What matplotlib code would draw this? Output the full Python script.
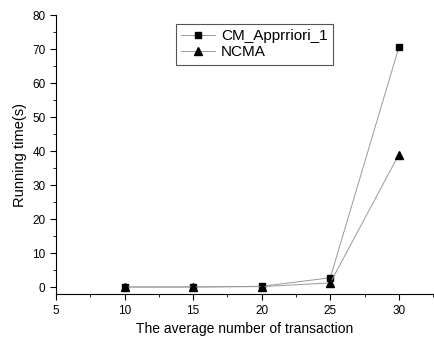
import matplotlib.pyplot as plt
from matplotlib.ticker import MultipleLocator

plt.rcParams['font.family'] = ['Liberation Sans', 'DejaVu Sans']

x = [10, 15, 20, 25, 30]
cm_apriori = [0.1, 0.1, 0.3, 2.8, 70.5]
ncma = [0.1, 0.1, 0.2, 1.3, 39.0]

fig = plt.figure(figsize=(4.34, 3.42), dpi=100)
ax = fig.add_axes([0.129, 0.140, 0.869, 0.816])

ax.plot(x, cm_apriori, color='#999999', lw=0.7, marker='s', ms=5,
        mfc='black', mec='black', label='CM_Apprriori_1')
ax.plot(x, ncma, color='#999999', lw=0.7, marker='^', ms=6,
        mfc='black', mec='black', label='NCMA')

ax.set_xlim(5, 32.5)
ax.set_ylim(-2, 80)
ax.xaxis.set_major_locator(MultipleLocator(5))
ax.xaxis.set_minor_locator(MultipleLocator(2.5))
ax.yaxis.set_major_locator(MultipleLocator(10))
ax.yaxis.set_minor_locator(MultipleLocator(5))
ax.spines['top'].set_visible(False)
ax.spines['right'].set_visible(False)
ax.tick_params(which='major', direction='out', length=4, labelsize=8.5)
ax.tick_params(which='minor', direction='out', length=2)

ax.set_xlabel('The average number of transaction', fontsize=10)
ax.set_ylabel('Running time(s)', fontsize=10.5)

leg = ax.legend(loc='upper left', bbox_to_anchor=(0.298, 0.997), fontsize=11,
                fancybox=False, framealpha=1, edgecolor='#555555',
                handlelength=2.2, borderpad=0.35, labelspacing=0.15,
                handletextpad=0.4)
leg.get_frame().set_linewidth(0.8)

fig.savefig('out.png', dpi=100)
